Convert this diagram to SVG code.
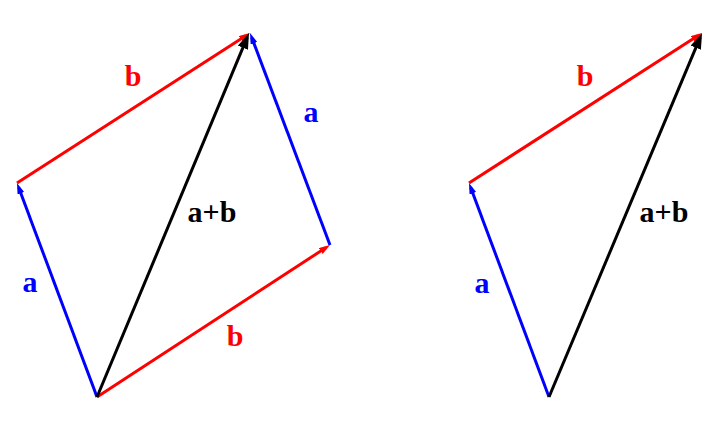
<svg xmlns="http://www.w3.org/2000/svg" width="720" height="427" viewBox="0 0 720 427">
<style>
.v{stroke-width:3;fill:none;stroke-linecap:butt}
.r{stroke:#ff0000}
.bl{stroke:#0000ff}
.k{stroke:#000000}
text{font-family:"Liberation Serif","Times New Roman",serif;font-weight:bold;font-size:30px;text-anchor:middle}
.tr{fill:#ff0000}
.tb{fill:#0000ff}
.tk{fill:#000000}
</style>
<defs>
<marker id="ar" markerUnits="userSpaceOnUse" markerWidth="12" markerHeight="8" refX="6" refY="3.5" orient="auto"><path d="M0,0 L11,3.5 L0,7 z" fill="#ff0000"/></marker>
<marker id="ab" markerUnits="userSpaceOnUse" markerWidth="12" markerHeight="8" refX="6" refY="3.5" orient="auto"><path d="M0,0 L11,3.5 L0,7 z" fill="#0000ff"/></marker>
<marker id="ak" markerUnits="userSpaceOnUse" markerWidth="17" markerHeight="12" refX="11" refY="5.5" orient="auto"><path d="M0,0 L16,5.5 L0,11 z" fill="#000000"/></marker>
</defs>
<rect width="720" height="427" fill="#ffffff"/>
<g id="connectors">
<line id="left-a1" class="v bl" x1="97" y1="397" x2="18.75" y2="187.7" marker-end="url(#ab)"/>
<line id="left-b1" class="v r" x1="17" y1="183" x2="245.8" y2="35.7" marker-end="url(#ar)"/>
<line id="left-b2" class="v r" x1="97" y1="397" x2="325.8" y2="247.7" marker-end="url(#ar)"/>
<line id="left-a2" class="v bl" x1="330" y1="245" x2="251.8" y2="37.7" marker-end="url(#ab)"/>
<line id="left-sum" class="v k" x1="97" y1="397" x2="247.1" y2="37.6" marker-end="url(#ak)"/>
<line id="right-a" class="v bl" x1="549" y1="397" x2="470.75" y2="187.7" marker-end="url(#ab)"/>
<line id="right-b" class="v r" x1="469" y1="183" x2="697.8" y2="35.7" marker-end="url(#ar)"/>
<line id="right-sum" class="v k" x1="549" y1="397" x2="700.1" y2="37.6" marker-end="url(#ak)"/>
</g>
<g id="labels">
<text class="tr" x="133" y="86">b</text>
<text class="tb" x="311" y="122">a</text>
<text class="tk" x="212" y="222">a+b</text>
<text class="tb" x="30" y="292">a</text>
<text class="tr" x="235" y="346">b</text>
<text class="tr" x="585" y="86">b</text>
<text class="tk" x="664" y="222">a+b</text>
<text class="tb" x="482" y="293">a</text>
</g>
</svg>
